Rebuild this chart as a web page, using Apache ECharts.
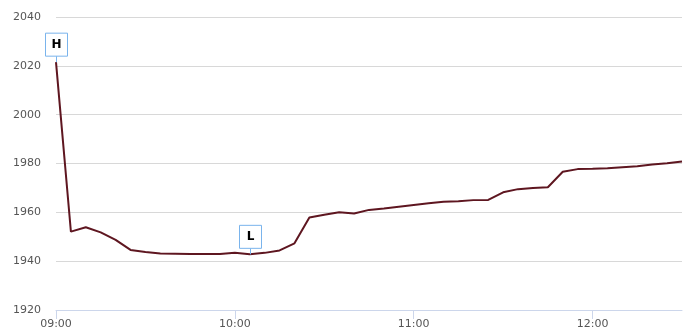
<!DOCTYPE html>
<html>
<head>
<meta charset="utf-8">
<script src="https://cdn.jsdelivr.net/npm/echarts@6/dist/echarts.min.js"></script>
<style>
html,body{margin:0;padding:0;background:#fff;}
#chart{width:687px;height:335px;}
</style>
</head>
<body>
<div id="chart"></div>
<script>
var times = ['09:00','09:05','09:10','09:15','09:20','09:25','09:30','09:35','09:40','09:45','09:50','09:55',
             '10:00','10:05','10:10','10:15','10:20','10:25','10:30','10:35','10:40','10:45','10:50','10:55',
             '11:00','11:05','11:10','11:15','11:20','11:25','11:30','11:35','11:40','11:45','11:50','11:55',
             '12:00','12:05','12:10','12:15','12:20','12:25','12:30'];
var prices = [2021.5,1952.1,1953.9,1951.8,1948.7,1944.6,1943.8,1943.1,1943.0,1942.9,1942.9,1942.9,
              1943.4,1942.8,1943.4,1944.4,1947.3,1957.9,1959.0,1960.0,1959.5,1961.0,1961.6,1962.3,
              1963.0,1963.7,1964.3,1964.5,1965.0,1965.1,1968.2,1969.5,1970.0,1970.3,1976.6,1977.7,
              1977.8,1978.1,1978.5,1978.9,1979.6,1980.1,1980.8];
var yTicks = [1920,1940,1960,1980,2000,2020,2040];
var flagTimes = ['09:00','10:05'];
var flagLabels = ['H','L'];

var flagData = flagTimes.map(function(t, i){
  var idx = times.indexOf(t);
  return [idx, prices[idx], flagLabels[i]];
});

var chart = echarts.init(document.getElementById('chart'), null, {renderer:'canvas'});
chart.setOption({
  animation:false,
  grid:{left:56,right:5,top:17,bottom:25},
  xAxis:{
    type:'category',
    data:times,
    boundaryGap:false,
    axisLine:{lineStyle:{color:'#ccd6eb',width:1}},
    axisTick:{show:true,interval:11,length:9,inside:false,lineStyle:{color:'#ccd6eb'}},
    axisLabel:{interval:11,color:'#555555',fontFamily:'DejaVu Sans',fontSize:11,margin:9},
    splitLine:{show:false}
  },
  yAxis:{
    type:'value',
    min:yTicks[0],
    max:yTicks[yTicks.length-1],
    interval:20,
    axisLine:{show:false},
    axisTick:{show:false},
    axisLabel:{color:'#555555',fontFamily:'DejaVu Sans',fontSize:11,margin:15,
      formatter:function(v){return String(v);}},
    splitLine:{lineStyle:{color:'#d8d8d8',width:1}}
  },
  series:[
    {
      type:'line',
      data:prices,
      symbol:'none',
      lineStyle:{color:'#5e1620',width:2},
      z:2
    },
    {
      type:'custom',
      data:flagData,
      z:5,
      renderItem:function(params, api){
        var p = api.coord([api.value(0), api.value(1)]);
        var x = Math.round(p[0]) + 0.5;
        var y = p[1];
        var label = flagLabels[params.dataIndex];
        return {
          type:'group',
          children:[
            {type:'line',shape:{x1:x,y1:y,x2:x,y2:y-6},style:{stroke:'#7ab4ec',lineWidth:1}},
            {type:'rect',shape:{x:x-11,y:y-29,width:22,height:23},style:{fill:'#ffffff',stroke:'#7ab4ec',lineWidth:1}},
            {type:'text',style:{text:label,x:x,y:y-17.5,align:'center',verticalAlign:'middle',
              fill:'#000000',font:'bold 12px "DejaVu Sans"'}}
          ]
        };
      }
    }
  ]
});
</script>
</body>
</html>
